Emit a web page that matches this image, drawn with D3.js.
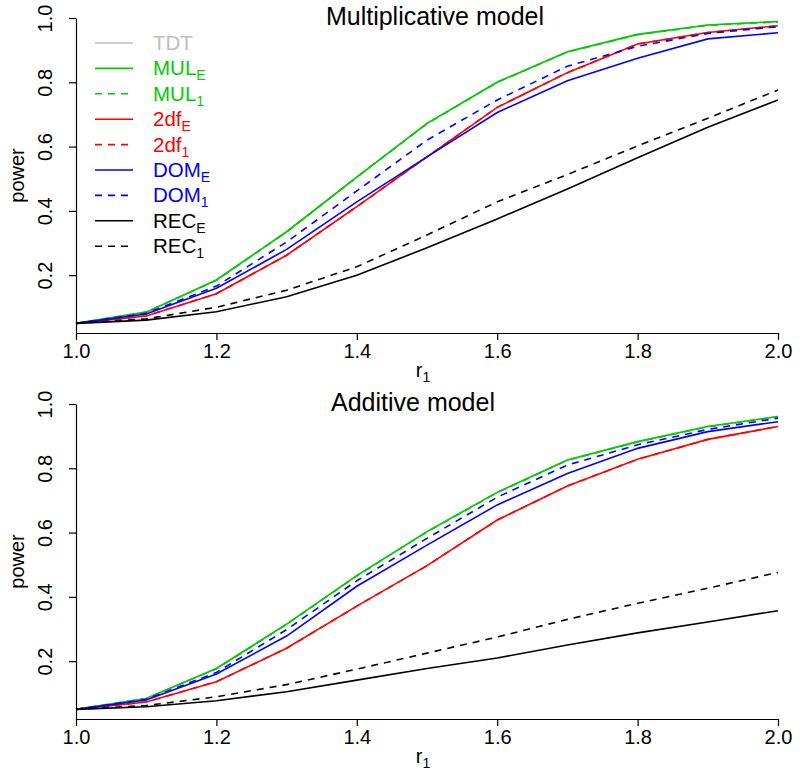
<!DOCTYPE html>
<html>
<head>
<meta charset="utf-8">
<script src="https://cdn.jsdelivr.net/npm/d3@7/dist/d3.min.js"></script>
<style>
  body { margin: 0; background: #fff; }
  svg { display: block; font-family: "Liberation Sans", Arial, sans-serif; }
</style>
</head>
<body>
<svg id="chart" width="800" height="773"></svg>
<script>
// ---------------- data ----------------
const r1 = [1.0, 1.1, 1.2, 1.3, 1.4, 1.5, 1.6, 1.7, 1.8, 1.9, 2.0];
const xTicks = [1.0, 1.2, 1.4, 1.6, 1.8, 2.0];
const yTicks = [0.2, 0.4, 0.6, 0.8, 1.0];

// Multiplicative model
const mulTDT  = [0.05, 0.085, 0.185, 0.335, 0.505, 0.672, 0.800, 0.895, 0.949, 0.978, 0.989];
const mulMULE = [0.05, 0.085, 0.185, 0.335, 0.505, 0.672, 0.800, 0.895, 0.949, 0.978, 0.989];
const mulMUL1 = [0.05, 0.085, 0.184, 0.334, 0.505, 0.671, 0.800, 0.894, 0.948, 0.977, 0.988];
const mul2dfE = [0.05, 0.073, 0.142, 0.262, 0.413, 0.568, 0.722, 0.830, 0.919, 0.955, 0.976];
const mul2df1 = [0.05, 0.073, 0.142, 0.262, 0.413, 0.568, 0.722, 0.830, 0.919, 0.955, 0.976];
const mulDOME = [0.05, 0.079, 0.159, 0.280, 0.428, 0.568, 0.706, 0.805, 0.875, 0.935, 0.954];
const mulDOM1 = [0.05, 0.081, 0.166, 0.303, 0.462, 0.620, 0.745, 0.850, 0.912, 0.952, 0.973];
const mulRECE = [0.05, 0.060, 0.086, 0.133, 0.200, 0.285, 0.375, 0.468, 0.565, 0.660, 0.745];
const mulREC1 = [0.05, 0.064, 0.100, 0.153, 0.226, 0.325, 0.428, 0.513, 0.602, 0.688, 0.776];

// Additive model
const addTDT  = [0.05, 0.084, 0.177, 0.315, 0.466, 0.603, 0.725, 0.826, 0.883, 0.930, 0.961];
const addMULE = [0.05, 0.084, 0.177, 0.315, 0.466, 0.603, 0.725, 0.826, 0.883, 0.930, 0.961];
const addMUL1 = [0.05, 0.084, 0.176, 0.314, 0.465, 0.602, 0.724, 0.825, 0.882, 0.929, 0.960];
const add2dfE = [0.05, 0.073, 0.136, 0.240, 0.371, 0.497, 0.639, 0.745, 0.828, 0.890, 0.930];
const add2df1 = [0.05, 0.073, 0.136, 0.240, 0.371, 0.497, 0.639, 0.745, 0.828, 0.890, 0.930];
const addDOME = [0.05, 0.079, 0.160, 0.278, 0.433, 0.561, 0.686, 0.784, 0.862, 0.914, 0.945];
const addDOM1 = [0.05, 0.081, 0.165, 0.298, 0.450, 0.582, 0.710, 0.810, 0.873, 0.921, 0.956];
const addRECE = [0.05, 0.058, 0.077, 0.105, 0.141, 0.177, 0.210, 0.250, 0.288, 0.322, 0.357];
const addREC1 = [0.05, 0.062, 0.089, 0.127, 0.175, 0.225, 0.275, 0.330, 0.380, 0.427, 0.476];

const seriesNames = ["TDT", "MUL_E", "MUL_1", "2df_E", "2df_1", "DOM_E", "DOM_1", "REC_E", "REC_1"];
const seriesColors = ["#bebebe", "#00cd00", "#00cd00", "#ff0000", "#ff0000", "#0000ff", "#0000ff", "#000000", "#000000"];
const seriesDashed = [false, false, true, false, true, false, true, false, true];

const panels = [
  { title: "Multiplicative model", titleX: 435, top: 18, bottom: 333,
    values: [mulTDT, mulMULE, mulMUL1, mul2dfE, mul2df1, mulDOME, mulDOM1, mulRECE, mulREC1], legend: true },
  { title: "Additive model", titleX: 413, top: 404, bottom: 719,
    values: [addTDT, addMULE, addMUL1, add2dfE, add2df1, addDOME, addDOM1, addRECE, addREC1], legend: false }
];

// ---------------- drawing ----------------
const svg = d3.select("#chart");
const left = 76, right = 778;
const x = d3.scaleLinear().domain([1, 2]).range([left, right]);

panels.forEach(p => {
  const y = d3.scaleLinear().domain([0.02, 1]).range([p.bottom, p.top]);
  const g = svg.append("g");

  // x axis
  const xa = g.append("g").attr("transform", `translate(0,${p.bottom})`)
    .call(d3.axisBottom(x).tickValues(xTicks).tickFormat(d3.format(".1f")).tickSize(7).tickSizeOuter(0).tickPadding(4));
  xa.selectAll("text").attr("font-size", 20).attr("fill", "#000").attr("font-family", "Liberation Sans, Arial, sans-serif");
  xa.selectAll("line,path").attr("stroke", "#000").attr("stroke-width", 1.2);

  // y axis
  const ya = g.append("g").attr("transform", `translate(${left},0)`)
    .call(d3.axisLeft(y).tickValues(yTicks).tickFormat(d3.format(".1f")).tickSize(7).tickSizeOuter(0));
  ya.selectAll("line,path").attr("stroke", "#000").attr("stroke-width", 1.2);
  ya.selectAll("text")
    .attr("font-size", 20).attr("fill", "#000").attr("font-family", "Liberation Sans, Arial, sans-serif")
    .attr("text-anchor", "middle").attr("x", 0).attr("dy", 0)
    .attr("transform", "translate(-24,0) rotate(-90)");

  // axis titles
  g.append("text").attr("transform", `translate(24,${(p.top + p.bottom) / 2}) rotate(-90)`)
    .attr("text-anchor", "middle").attr("font-size", 20).text("power");
  const xl = g.append("text").attr("x", (left + right) / 2 - 4).attr("y", p.bottom + 44)
    .attr("text-anchor", "middle").attr("font-size", 20);
  xl.append("tspan").text("r");
  xl.append("tspan").attr("font-size", 14).attr("dy", 5).text("1");

  // title
  g.append("text").attr("x", p.titleX).attr("y", p.top + 7).attr("text-anchor", "middle")
    .attr("font-size", 25).text(p.title);

  // lines
  const line = d3.line().x((d, i) => x(r1[i])).y(d => y(d));
  p.values.forEach((vals, k) => {
    g.append("path").datum(vals).attr("d", line)
      .attr("fill", "none").attr("stroke", seriesColors[k]).attr("stroke-width", 1.6)
      .attr("stroke-dasharray", seriesDashed[k] ? "7,6" : null);
  });

  // legend
  if (p.legend) {
    const lg = g.append("g");
    seriesNames.forEach((name, k) => {
      const cy = 43 + k * 25.4;
      lg.append("line").attr("x1", 95).attr("x2", 133).attr("y1", cy).attr("y2", cy)
        .attr("stroke", seriesColors[k]).attr("stroke-width", 1.6)
        .attr("stroke-dasharray", seriesDashed[k] ? "7,6" : null);
      const parts = name.split("_");
      const t = lg.append("text").attr("x", 153).attr("y", cy + 7).attr("font-size", 20.5)
        .attr("fill", seriesColors[k]);
      t.append("tspan").text(parts[0]);
      if (parts[1]) t.append("tspan").attr("font-size", 14).attr("dy", 5).text(parts[1]);
    });
  }
});
</script>
</body>
</html>
